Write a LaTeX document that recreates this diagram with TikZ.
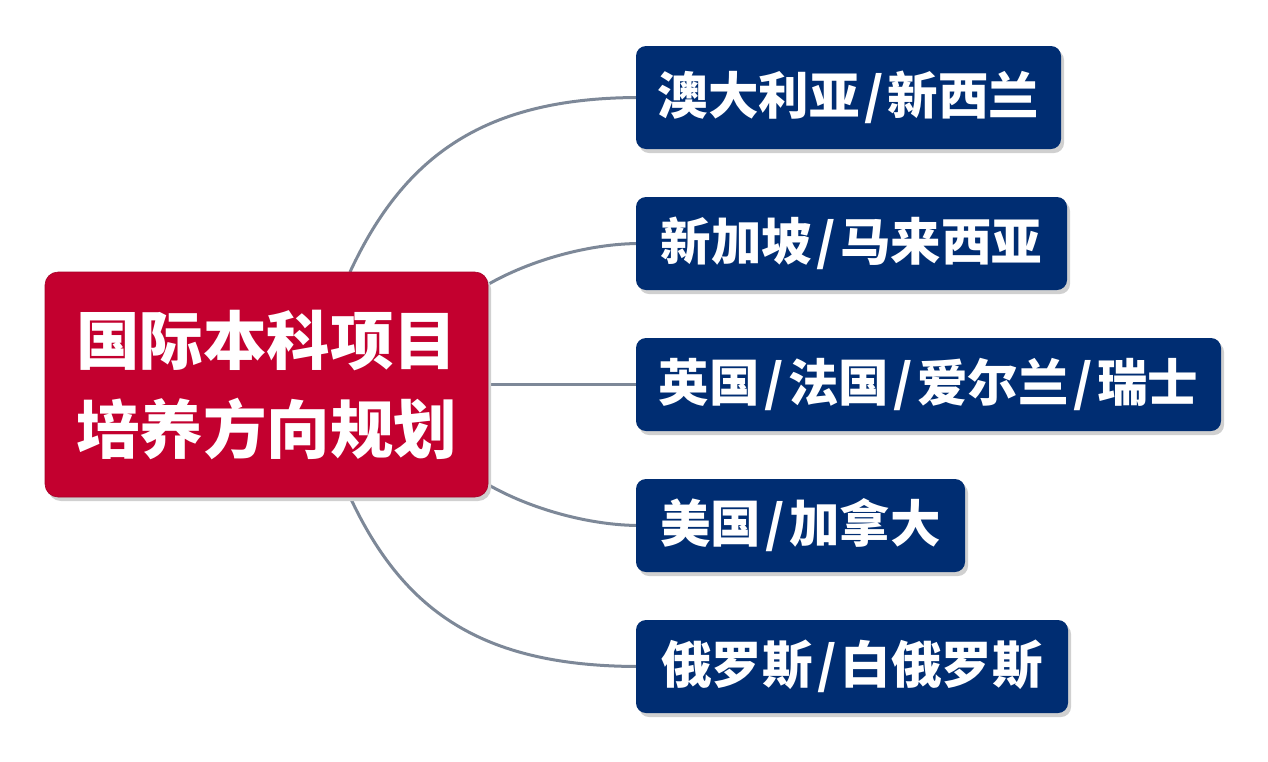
\documentclass[tikz,border=0pt]{standalone}
\usepackage{fontspec}
\newfontfamily\cjk{Noto Sans CJK SC}
\usetikzlibrary{shadows}
\definecolor{mainred}{HTML}{C3002F}
\definecolor{navy}{HTML}{002D72}
\definecolor{linkgray}{HTML}{7D8898}
\definecolor{shadowgray}{HTML}{D0D0D0}
\newcommand{\slsh}{\kern4.5pt/\kern4.5pt}
\tikzset{
  rootbox/.style={rectangle, rounded corners=13pt, fill=mainred, draw=mainred!85!black, line width=0.6pt,
    drop shadow={shadow xshift=3pt, shadow yshift=-4pt, fill=shadowgray, opacity=1},
    text=white, align=center, inner sep=0pt,
    font=\cjk\bfseries\fontsize{63.5}{89}\selectfont},
  leafbox/.style={rectangle, rounded corners=10pt, fill=navy, draw=none,
    drop shadow={shadow xshift=3pt, shadow yshift=-4pt, fill=shadowgray, opacity=1},
    text=white, inner sep=0pt,
    font=\cjk\bfseries\fontsize{50.5}{60}\selectfont},
  link/.style={draw=linkgray, line width=3pt}
}
\begin{document}
\begin{tikzpicture}[x=1pt,y=-1pt]
\useasboundingbox (0,0) rectangle (1268,761);
\fill[white] (0,0) rectangle (1268,761);
% connectors (drawn first, behind boxes)
\coordinate (r1) at (350,272);
\coordinate (r2) at (487,285);
\coordinate (r3) at (488,384);
\coordinate (r4) at (487,484);
\coordinate (r5) at (350,497);
\coordinate (l1) at (640,97.5);
\coordinate (l2) at (640,243.5);
\coordinate (l3) at (640,384);
\coordinate (l4) at (640,525.5);
\coordinate (l5) at (640,666.5);
\draw[link] (r1) .. controls (405,154) and (486,97.5) .. (l1);
\draw[link] (r2) .. controls (530,260) and (590,243.5) .. (l2);
\draw[link] (r3) -- (l3);
\draw[link] (r4) .. controls (530,509) and (590,525.5) .. (l4);
\draw[link] (r5) .. controls (405,615) and (486,666.5) .. (l5);
% nodes
\node[rootbox, minimum width=443pt, minimum height=225pt] (root) at (266.5,384.5) {国际本科项目\\培养方向规划};
\node[leafbox, minimum width=425pt, minimum height=103pt] (b1) at (848.5,97.5) {澳大利亚\slsh 新西兰};
\node[leafbox, minimum width=431pt, minimum height=93pt] (b2) at (851.5,243.5) {新加坡\slsh 马来西亚};
\node[leafbox, minimum width=585pt, minimum height=93pt] (b3) at (928.5,384.5) {英国\slsh 法国\slsh 爱尔兰\slsh 瑞士};
\node[leafbox, minimum width=329pt, minimum height=93pt] (b4) at (800.5,525.5) {美国\slsh 加拿大};
\node[leafbox, minimum width=432pt, minimum height=93pt] (b5) at (852,666.5) {俄罗斯\slsh 白俄罗斯};
\end{tikzpicture}
\end{document}
